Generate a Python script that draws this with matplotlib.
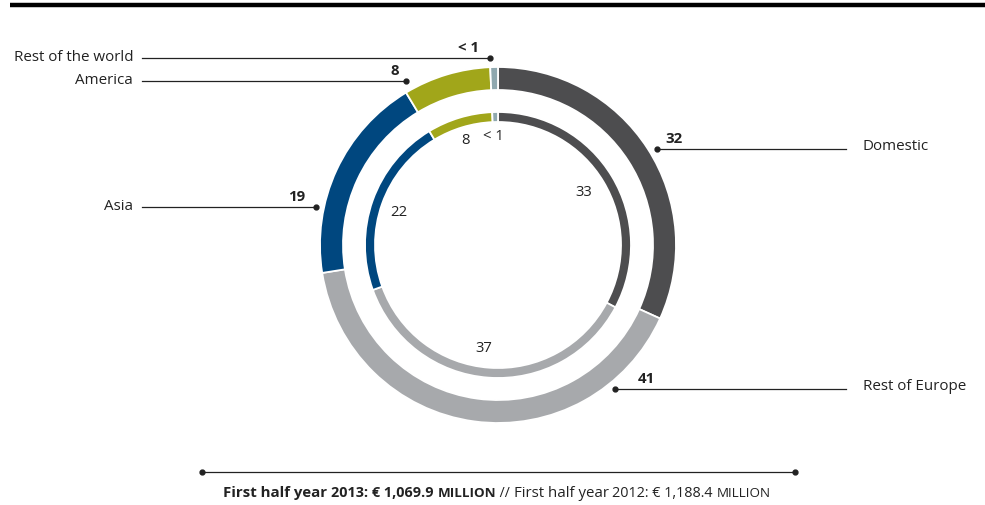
import matplotlib
matplotlib.use("Agg")
import matplotlib.pyplot as plt

plt.rcParams["font.family"] = ["Open Sans", "DejaVu Sans"]

# shares in percent, clockwise from 12 o'clock
regions = ["Domestic", "Rest of Europe", "Asia", "America", "Rest of the world"]
share_2013 = [32, 41, 19, 8, 0.7]
share_2012 = [33, 37, 22, 8, 0.7]
labels_2013 = ["32", "41", "19", "8", "< 1"]
labels_2012 = ["33", "37", "22", "8", "< 1"]
colors = ["#4d4d4f", "#a7a9ac", "#00477f", "#a1a61a", "#8fa8af"]

W, H = 985, 506
cx, cy = 498, 246


def Y(y):
    return H - y


fig = plt.figure(figsize=(W / 100, H / 100), dpi=100)
ax = fig.add_axes([0, 0, 1, 1])

# top rule
ax.plot([10, W], [Y(6), Y(6)], color="black", linewidth=3.2, solid_capstyle="butt")

# outer ring: 2013, inner ring: 2012
ax.pie(share_2013, colors=colors, radius=178, center=(cx, Y(cy)),
       startangle=90, counterclock=False, frame=True,
       wedgeprops=dict(width=23, edgecolor="white", linewidth=1.3))
ax.pie(share_2012, colors=colors, radius=133, center=(cx, Y(cy)),
       startangle=90, counterclock=False, frame=True,
       wedgeprops=dict(width=10, edgecolor="white", linewidth=1.3))
ax.set_xlim(0, W)
ax.set_ylim(0, H)
ax.set_aspect("equal")
ax.axis("off")

line_col = "#222222"
txt_col = "#222222"
# leader lines: (region index, line y, dot x, side, value label x)
leaders = [
    (4, 59, 490, "left", 468),
    (3, 82, 406, "left", 395),
    (2, 208, 316, "left", 297),
    (0, 150, 657, "right", 674),
    (1, 390, 615, "right", 646),
]
for idx, ly, dx, side, vx in leaders:
    if side == "left":
        ax.plot([142, dx], [Y(ly), Y(ly)], color=line_col, linewidth=0.9)
        ax.text(133, Y(ly) + 2, regions[idx], ha="right", va="center",
                fontsize=10.9, color=txt_col)
    else:
        ax.plot([dx, 846], [Y(ly), Y(ly)], color=line_col, linewidth=0.9)
        ax.text(863, Y(ly) + 4, regions[idx], ha="left", va="center",
                fontsize=10.9, color=txt_col)
    ax.plot(dx, Y(ly), "o", color=line_col, markersize=3.5)
    ax.text(vx, Y(ly) + 11, labels_2013[idx], ha="center", va="center",
            fontsize=10.8, fontweight="bold", color=txt_col)

# inner ring value labels
inner_pos = [(584, 193), (484, 349), (399, 213), (466, 141), (493, 136)]
for (x, y), lab in zip(inner_pos, labels_2012):
    ax.text(x, Y(y), lab, ha="center", va="center", fontsize=10.7, color=txt_col)

# bottom rule with end dots
ax.plot([202, 795], [Y(473), Y(473)], color=line_col, linewidth=0.9)
ax.plot([202, 795], [Y(473), Y(473)], "o", color=line_col, markersize=3.5, linestyle="none")

# footer in mixed weights / small caps
pieces = [
    ("First half year ", "bold", 10.8),
    ("2013: € 1,069.9 ", "bold", 10.4),
    ("MILLION", "bold", 9.6),
    (" // ", "normal", 10.0),
    ("First half year ", "normal", 10.8),
    ("2012: € 1,188.4 ", "normal", 10.4),
    ("MILLION", "normal", 9.6),
]
renderer = fig.canvas.get_renderer()
texts = []
total = 0
for s, wt, fs in pieces:
    t = ax.text(0, Y(497), s, ha="left", va="baseline", fontsize=fs,
                fontweight=wt, color=txt_col)
    w = t.get_window_extent(renderer).width
    texts.append((t, w))
    total += w
x0 = 497 - total / 2
for t, w in texts:
    t.set_x(x0)
    x0 += w

fig.savefig("out.png", dpi=100)
